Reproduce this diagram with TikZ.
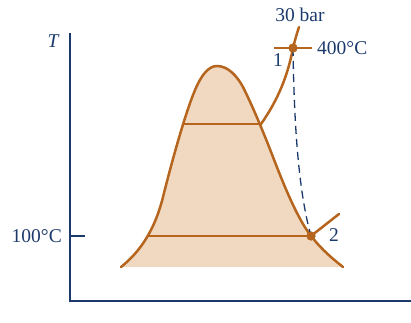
\documentclass[tikz,border=0pt]{standalone}
\usepackage{fontspec}
\setmainfont{Liberation Serif}
\definecolor{brn}{HTML}{B5651D}
\definecolor{fil}{HTML}{F0D9C0}
\definecolor{nav}{HTML}{1B3A6B}
\begin{document}
\begin{tikzpicture}[x=1pt,y=-1pt,
  curve/.style={draw=brn,line width=2.5pt,line cap=round},
  axis/.style={draw=nav,line width=1.3pt},
  lbl/.style={text=nav,font=\fontsize{19.5}{19.5}\selectfont,inner sep=0pt},
  dot/.style={circle,fill=brn,minimum size=9pt,inner sep=0pt}]
\useasboundingbox (0,0) rectangle (411,322);
\def\dome{(121,267) .. controls (141,251) and (155,229) .. (163,197)
  .. controls (172,161) and (185,114) .. (195,90)
  .. controls (201,76) and (208,66) .. (217,66)
  .. controls (228,66) and (237,76) .. (243,87)
  .. controls (252,105) and (263,131) .. (273,157)
  .. controls (283,183) and (297,218) .. (311,236)
  .. controls (323,251) and (333,259) .. (343,267)}
% fill
\fill[fil] \dome -- cycle;
% axes
\draw[axis] (70,33) -- (70,301) -- (411,301);
\coordinate (t1) at (70,236);
\coordinate (t2) at (85,236);
\draw[axis] (t1) -- (t2);
% dome
\draw[curve] \dome;
% horizontal lines
\coordinate (a1) at (184,124);
\coordinate (a2) at (261,124);
\coordinate (b1) at (148,236);
\draw[curve] (a1) -- (a2);
% states
\node[dot] (p1) at (293,48) {};
\node[dot] (p2) at (311,236) {};
\draw[curve] (b1) -- (p2.center);
% superheat
\draw[curve] (a2) .. controls (278,100) and (288,75) .. (p1.center) .. controls (295,40) and (297,33) .. (299,27);
\coordinate (h1) at (274,48);
\coordinate (h2) at (312,48);
\draw[draw=brn,line width=1.3pt] (h1) -- (h2);
\coordinate (e2) at (339,214);
\draw[curve] (p2.center) -- (e2);
% dashed process
\draw[nav,line width=1.3pt,dash pattern=on 8pt off 5pt] (p1.center) .. controls (294,120) and (298,190) .. (p2.center);
\node[dot] at (p1) {};
\node[dot] at (p2) {};
% labels
\node[lbl] (l30) at (300,15) {30 bar};
\node[lbl,anchor=west] (l400) at (317,48) {400°C};
\node[lbl] (l1) at (278,60) {1};
\node[lbl] (l2) at (334,235) {2};
\node[lbl,font=\fontsize{19.5}{19.5}\selectfont\itshape] (lT) at (53,41) {T};
\node[lbl,anchor=east] (l100) at (62,236) {100°C};
\end{tikzpicture}
\end{document}
